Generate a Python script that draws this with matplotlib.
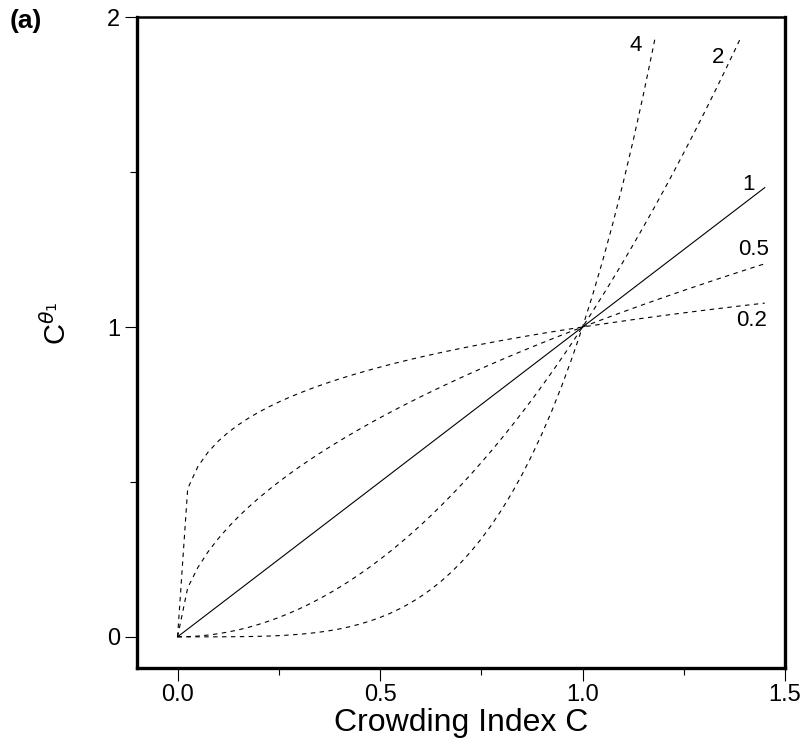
import numpy as np
import matplotlib
matplotlib.use('Agg')
import matplotlib.pyplot as plt
from matplotlib.ticker import MultipleLocator

# exponents theta and where each curve is labelled
thetas = [4, 2, 1, 0.5, 0.2]
labels = ['4', '2', '1', '0.5', '0.2']
label_xy = [(1.115, 1.91), (1.32, 1.87), (1.395, 1.46), (1.385, 1.25), (1.38, 1.02)]

# crowding index grid (coarse, as in the original plotting routine)
C = np.arange(0, 1.45 + 1e-9, 0.025)
ymax_curve = 1.93

fig = plt.figure(figsize=(8.11, 7.47), dpi=100)
ax = fig.add_axes([0.169, 0.106, 0.799, 0.871])

for th, lab, (lx, ly) in zip(thetas, labels, label_xy):
    y = C ** th
    keep = y <= ymax_curve
    xs, ys = C[keep], y[keep]
    if not keep.all():
        # end the steep curves right at the cut-off
        xs = np.append(xs, ymax_curve ** (1.0 / th))
        ys = np.append(ys, ymax_curve)
    if th == 1:
        ax.plot(xs, ys, color='black', lw=0.8)
    else:
        ax.plot(xs, ys, color='black', lw=0.8, linestyle=(0, (4, 4)))
    ax.text(lx, ly, lab, fontsize=16, family='Liberation Sans', ha='left', va='center')

ax.set_xlim(-0.1, 1.5)
ax.set_ylim(-0.1, 2.0)
ax.xaxis.set_minor_locator(MultipleLocator(0.25))
ax.yaxis.set_minor_locator(MultipleLocator(0.5))
ax.set_xticks([0, 0.5, 1.0, 1.5])
ax.set_xticklabels(['0.0', '0.5', '1.0', '1.5'])
ax.set_yticks([0, 1, 2])
ax.set_yticklabels(['0', '1', '2'])
ax.tick_params(which='major', length=9, width=0.8, labelsize=17, pad=3)
ax.tick_params(which='minor', length=5, width=0.8)
for t in ax.get_xticklabels() + ax.get_yticklabels():
    t.set_family('Liberation Sans')

for s in ax.spines.values():
    s.set_linewidth(2.4)
ax.spines['top'].set_linewidth(1.8)

ax.set_xlabel('Crowding Index C', fontsize=23, family='Liberation Sans', labelpad=1)
ax.set_ylabel(r'C$^{\theta_1}$', fontsize=21, family='Liberation Sans')
ax.yaxis.set_label_coords(-0.1, 0.53)

fig.text(0.012, 0.972, '(a)', fontsize=19, fontweight='bold', family='Liberation Sans', va='center')

fig.savefig('out.png', dpi=100)
